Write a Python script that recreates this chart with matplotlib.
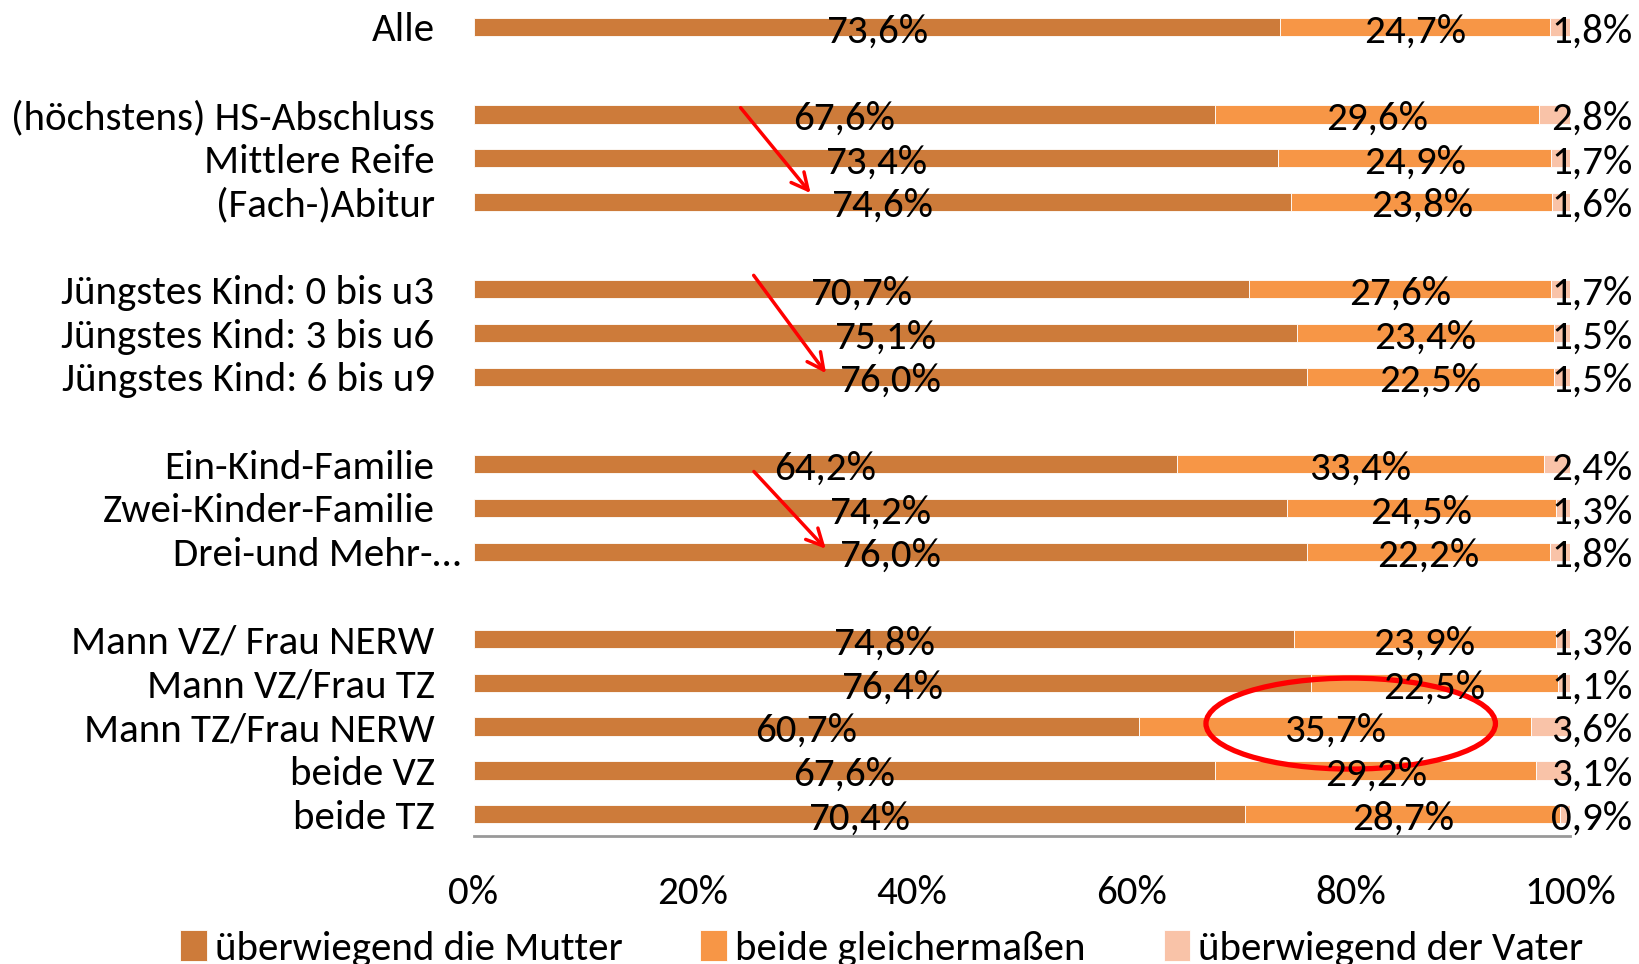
import numpy as np
import matplotlib.pyplot as plt
from matplotlib import font_manager
from matplotlib.patches import Ellipse
from matplotlib.transforms import ScaledTranslation

# schmale Schrift wählen, falls vorhanden (Original: Calibri)
vorhanden = {f.name for f in font_manager.fontManager.ttflist}
schrift = 'DejaVu Sans'
for name in ['Carlito', 'Liberation Sans Narrow', 'Lato', 'Roboto']:
    if name in vorhanden:
        schrift = name
        break
plt.rcParams['font.family'] = [schrift, 'DejaVu Sans']

# Daten
kategorien = ['Alle', '(höchstens) HS-Abschluss', 'Mittlere Reife', '(Fach-)Abitur',
              'Jüngstes Kind: 0 bis u3', 'Jüngstes Kind: 3 bis u6', 'Jüngstes Kind: 6 bis u9',
              'Ein-Kind-Familie', 'Zwei-Kinder-Familie', 'Drei-und Mehr-…',
              'Mann VZ/ Frau NERW', 'Mann VZ/Frau TZ', 'Mann TZ/Frau NERW', 'beide VZ', 'beide TZ']
# Position in der Liste (Leerzeilen zwischen den Gruppen)
slots = [0, 2, 3, 4, 6, 7, 8, 10, 11, 12, 14, 15, 16, 17, 18]

mutter = [73.6, 67.6, 73.4, 74.6, 70.7, 75.1, 76.0, 64.2, 74.2, 76.0, 74.8, 76.4, 60.7, 67.6, 70.4]
beide = [24.7, 29.6, 24.9, 23.8, 27.6, 23.4, 22.5, 33.4, 24.5, 22.2, 23.9, 22.5, 35.7, 29.2, 28.7]
vater = [1.8, 2.8, 1.7, 1.6, 1.7, 1.5, 1.5, 2.4, 1.3, 1.8, 1.3, 1.1, 3.6, 3.1, 0.9]

serien = ['überwiegend die Mutter', 'beide gleichermaßen', 'überwiegend der Vater']
farben = ['#CD7B3A', '#F79646', '#F9C3A8']

xticks = [0, 20, 40, 60, 80, 100]

# Pfeile (x in %, y in Zeilen) und Markierung
pfeile = [((24.2, 1.8), (30.9, 3.85)),
          ((25.4, 5.63), (32.3, 7.97)),
          ((25.4, 10.12), (32.3, 11.98))]

fs = 29.5

fig = plt.figure(figsize=(16.39, 9.64), dpi=100)
ax = fig.add_axes([0.2889, 0.1328, 0.669, 0.862])

werte = np.array([mutter, beide, vater])
summe = werte.sum(axis=0)
anteile = werte / summe * 100
y = np.array(slots)
links = np.zeros(len(y))
for i in range(3):
    ax.barh(y, anteile[i], left=links, height=0.42, color=farben[i],
            label=serien[i], edgecolor='white', linewidth=0.6)
    for j in range(len(y)):
        txt = f'{werte[i, j]:.1f}%'.replace('.', ',')
        if i < 2:
            xpos = links[j] + anteile[i, j] / 2
        else:
            xpos = 102
        ax.text(xpos, y[j] + 0.1, txt, ha='center', va='center', fontsize=fs, color='black')
    links += anteile[i]

for start, ende in pfeile:
    ax.annotate('', xy=ende, xytext=start,
                arrowprops=dict(arrowstyle='->', color='#FF0000', lw=2.5, mutation_scale=30))

ax.add_patch(Ellipse((80.0, 15.93), 26.4, 2.08, fill=False, edgecolor='#FF0000', lw=3.8))

ax.set_xlim(0, 100)
ax.set_ylim(18.5, -0.5)
ax.set_yticks(y)
ax.set_yticklabels(kategorien, fontsize=fs)
ax.set_xticks(xticks)
ax.set_xticklabels([f'{t}%' for t in xticks], fontsize=fs)
ax.tick_params(axis='both', length=0)
ax.tick_params(axis='y', pad=28)
ax.tick_params(axis='x', pad=28)
for s in ['top', 'right', 'left']:
    ax.spines[s].set_visible(False)
ax.spines['bottom'].set_color('#999999')
ax.spines['bottom'].set_linewidth(2)

for lbl in ax.get_yticklabels():
    if lbl.get_text().startswith('Drei'):
        lbl.set_transform(lbl.get_transform() + ScaledTranslation(0.26, 0, fig.dpi_scale_trans))

fig.legend(loc='center', bbox_to_anchor=(0.538, 0.016), ncol=3, frameon=False, fontsize=fs,
           handlelength=0.65, handleheight=0.8, handletextpad=0.2, columnspacing=1.9)

plt.savefig('out.png', dpi=100)
